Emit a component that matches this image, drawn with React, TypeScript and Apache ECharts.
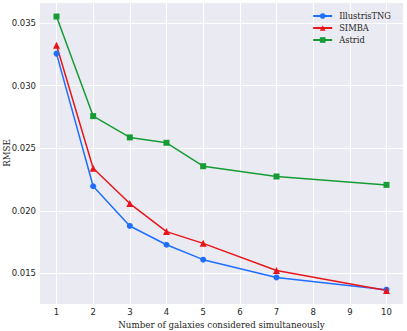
import React, { useEffect, useRef } from "react";
import * as echarts from "echarts";

const xValues = [1, 2, 3, 4, 5, 7, 10];
const illustrisTNG = [0.03255, 0.02196, 0.01879, 0.01729, 0.0161, 0.01468, 0.0137];
const simba = [0.03322, 0.0234, 0.02058, 0.01834, 0.0174, 0.01524, 0.01364];
const astrid = [0.03551, 0.02756, 0.02586, 0.02543, 0.02356, 0.02274, 0.02207];
const xTicks = [1, 2, 3, 4, 5, 6, 7, 8, 9, 10];
const yTicks = [0.015, 0.02, 0.025, 0.03, 0.035];

const pairs = (ys: number[]) => xValues.map((x, i) => [x, ys[i]]);

export default function App() {
  const ref = useRef<HTMLDivElement>(null);
  useEffect(() => {
    const chart = echarts.init(ref.current!, undefined, { renderer: "svg" });
    const serif = "DejaVu Serif";
    const mk = (name: string, data: number[], color: string, symbol: string, size: number) => ({
      name,
      type: "line",
      data: pairs(data),
      symbol,
      symbolSize: size,
      showSymbol: true,
      itemStyle: { color },
      lineStyle: { color, width: 1.5 },
      z: 3,
    });
    chart.setOption({
      animation: false,
      backgroundColor: "#ffffff",
      grid: {
        left: 40,
        right: 4,
        top: 3,
        bottom: 27,
        backgroundColor: "#eaeaf2",
        show: true,
        borderWidth: 0,
        containLabel: false,
        outerBoundsMode: "none",
      },
      graphic: [
        {
          type: "text",
          x: 7,
          y: 153,
          rotation: Math.PI / 2,
          style: {
            text: "RMSE",
            fontFamily: serif,
            fontSize: 8.7,
            fill: "#262626",
            align: "center",
            verticalAlign: "middle",
          },
        },
      ],
      legend: {
        top: 7,
        right: 11,
        orient: "vertical",
        itemGap: 4,
        itemWidth: 19,
        itemHeight: 7,
        textStyle: { fontFamily: serif, fontSize: 8.3, color: "#262626", padding: [0, 0, 0, 2] },
        data: ["IllustrisTNG", "SIMBA", "Astrid"],
      },
      xAxis: {
        type: "value",
        min: 0.55,
        max: 10.45,
        name: "Number of galaxies considered simultaneously",
        nameLocation: "middle",
        nameGap: 9,
        nameTextStyle: { fontFamily: serif, fontSize: 8.7, color: "#262626" },
        axisLine: { show: false },
        axisTick: { show: false, customValues: xTicks },
        axisLabel: { customValues: xTicks, fontFamily: "DejaVu Sans", fontSize: 8.5, color: "#262626", margin: 3 },
        splitLine: { show: true, lineStyle: { color: "#ffffff", width: 1 } },
      },
      yAxis: {
        type: "value",
        min: 0.01256,
        max: 0.03659,
        axisLine: { show: false },
        axisTick: { show: false, customValues: yTicks },
        axisLabel: {
          customValues: yTicks,
          fontFamily: "DejaVu Sans",
          fontSize: 8.5,
          color: "#262626",
          margin: 4,
          formatter: (v: number) => v.toFixed(3),
        },
        splitLine: { show: true, lineStyle: { color: "#ffffff", width: 1 } },
      },
      series: [
        mk("IllustrisTNG", illustrisTNG, "#1f6fff", "circle", 6),
        mk("SIMBA", simba, "#e8161b", "triangle", 7),
        mk("Astrid", astrid, "#169c34", "rect", 6),
      ],
    });
    return () => chart.dispose();
  }, []);
  return <div ref={ref} style={{ width: 407, height: 331, position: "absolute", left: 0, top: 0 }} />;
}
